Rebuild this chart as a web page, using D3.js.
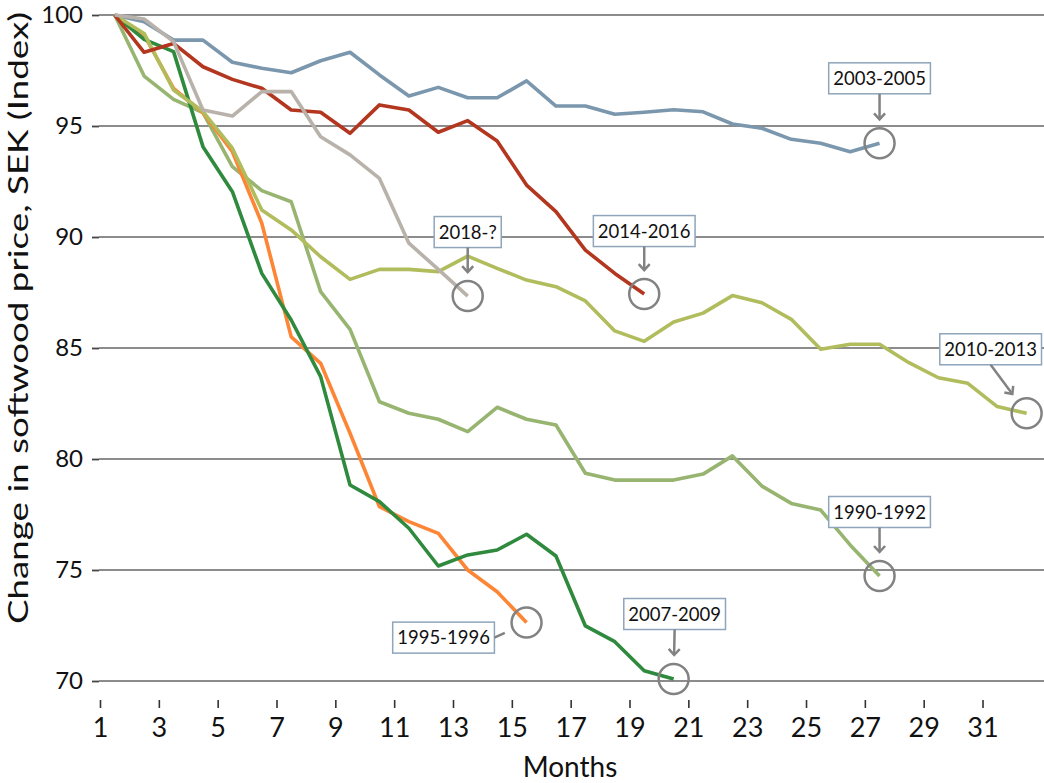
<!DOCTYPE html>
<html>
<head>
<meta charset="utf-8">
<script src="https://cdn.jsdelivr.net/npm/d3@7"></script>
<style>
    html, body { margin: 0; padding: 0; background: #fff; }
    svg { display: block; font-family: Lato, 'Open Sans', sans-serif; }
</style>
</head>
<body>
<div id="chart-container"></div>
<script>
// Index values (start = 100), one value per month of each downturn
const s1990 = [100, 97.25, 96.2, 95.6, 93.17, 92.09, 91.59, 87.54, 85.84, 82.58, 82.06, 81.79, 81.23, 82.33, 81.79,
    81.53, 79.36, 79.05, 79.05, 79.05, 79.32, 80.14, 78.78, 78.0, 77.7, 76.13, 74.73];
const s1995 = [100, 99.1, 96.7, 95.6, 93.84, 90.62, 85.5, 84.31, 81.16, 77.85, 77.18, 76.65, 75.0, 74.02, 72.63];
const s2003 = [100, 99.7, 98.87, 98.87, 97.87, 97.6, 97.4, 97.94, 98.32, 97.3, 96.35, 96.74, 96.27, 96.27, 97.03,
    95.9, 95.9, 95.53, 95.62, 95.73, 95.64, 95.09, 94.9, 94.4, 94.22, 93.84, 94.22];
const s2007 = [100, 98.9, 98.35, 94.07, 92.04, 88.36, 86.26, 83.71, 78.83, 78.08, 76.88, 75.18, 75.68, 75.9, 76.61,
    75.63, 72.48, 71.77, 70.46, 70.09];
const s2010 = [100, 99.17, 96.62, 95.65, 94.0, 91.22, 90.32, 89.11, 88.09, 88.54, 88.54, 88.44, 89.14, 88.59, 88.06,
    87.76, 87.12, 85.77, 85.3, 86.17, 86.57, 87.36, 87.04, 86.29, 84.94, 85.17, 85.17, 84.34, 83.66, 83.41, 82.36, 82.06];
const s2014 = [100, 98.32, 98.72, 97.67, 97.1, 96.7, 95.72, 95.62, 94.67, 95.95, 95.72, 94.72, 95.24, 94.32, 92.34,
    91.14, 89.41, 88.36, 87.43];
const s2018 = [100, 99.82, 98.8, 95.72, 95.45, 96.55, 96.55, 94.52, 93.7, 92.64, 89.72, 88.54, 87.34];

const periods = ['1990-1992', '1995-1996', '2003-2005', '2007-2009', '2010-2013', '2014-2016', '2018-?'];
const seriesValues = [s1990, s1995, s2003, s2007, s2010, s2014, s2018];
const monthTicks = d3.range(1, 32, 2);
const indexTicks = [70, 75, 80, 85, 90, 95, 100];

const COLORS = ['#97b571', '#fd8636', '#7b97ad', '#2f8a3e', '#b1bc5d', '#b3361f', '#b8b2aa'];
// where each callout box sits relative to the end of its line
const CALLOUTS = {
    '1990-1992': { dx: 0, dy: -64, from: 'bottom', head: true },
    '1995-1996': { dx: -83, dy: 15, from: 'right', head: false },
    '2003-2005': { dx: 0, dy: -65, from: 'bottom', head: true },
    '2007-2009': { dx: 1, dy: -65, from: 'bottom', head: true },
    '2010-2013': { dx: -36, dy: -64, from: 'bottom', head: true },
    '2014-2016': { dx: 0, dy: -63, from: 'bottom', head: true },
    '2018-?': { dx: 0, dy: -64, from: 'bottom', head: true },
};

const width = 1044;
const height = 783;
const margin = { top: 15, right: 0, bottom: 102, left: 99 };
const RING_RADIUS = 15;
const ARROW_GAP = 24;

const svg = d3
    .select('#chart-container')
    .append('svg')
    .attr('width', width)
    .attr('height', height)
    .attr('viewBox', [0, 0, width, height]);

const x = d3.scaleLinear().domain([1, 33.09]).range([100, width]);
const y = d3
    .scaleLinear()
    .domain([70, 100])
    .range([height - margin.bottom, margin.top]);

// points sit mid-month, half a step right of the tick labels (as in the source chart)
const px = (i) => x(i + 1.5);

svg.append('defs')
    .append('marker')
    .attr('id', 'head')
    .attr('markerWidth', 14)
    .attr('markerHeight', 14)
    .attr('refX', 7)
    .attr('refY', 7)
    .attr('orient', 'auto')
    .attr('markerUnits', 'userSpaceOnUse')
    .append('path')
    .attr('d', 'M1,1.5L7,7L1,12.5')
    .attr('fill', 'none')
    .attr('stroke', '#828282')
    .attr('stroke-width', 2.5);

// gridlines
svg.append('g')
    .selectAll('line')
    .data(indexTicks)
    .join('line')
    .attr('x1', margin.left)
    .attr('x2', width)
    .attr('y1', (d) => y(d))
    .attr('y2', (d) => y(d))
    .attr('stroke', '#8c8c8c')
    .attr('stroke-width', 2.2);

const yAxis = svg
    .append('g')
    .attr('transform', `translate(${margin.left},0)`)
    .call(d3.axisLeft(y).tickValues(indexTicks).tickSize(7).tickPadding(9));
yAxis.select('.domain').remove();
yAxis.selectAll('line').attr('stroke', '#444').attr('stroke-width', 1.8);
yAxis.selectAll('text').attr('font-size', 24).attr('fill', '#111').attr('font-family', 'Lato');

const xAxis = svg
    .append('g')
    .attr('transform', 'translate(0,700)')
    .call(d3.axisBottom(x).tickValues(monthTicks).tickSize(8).tickPadding(10));
xAxis.select('.domain').remove();
xAxis.selectAll('line').attr('stroke', '#333').attr('stroke-width', 1.6);
xAxis.selectAll('text').attr('font-size', 27).attr('fill', '#111').attr('font-family', 'Lato');

svg.append('text')
    .attr('transform', 'translate(28,318) rotate(-90)')
    .attr('text-anchor', 'middle')
    .attr('font-size', 27)
    .attr('textLength', 612)
    .attr('lengthAdjust', 'spacingAndGlyphs')
    .attr('fill', '#111')
    .text('Change in softwood price, SEK (Index)');

svg.append('text')
    .attr('x', 570)
    .attr('y', 777)
    .attr('text-anchor', 'middle')
    .attr('font-size', 28)
    .attr('fill', '#111')
    .text('Months');

const line = d3
    .line()
    .x((d, i) => px(i))
    .y((d) => y(d));

svg.append('g')
    .selectAll('path')
    .data(seriesValues)
    .join('path')
    .attr('d', line)
    .attr('fill', 'none')
    .attr('stroke', (d, i) => COLORS[i])
    .attr('stroke-width', 3.6)
    .attr('stroke-linejoin', 'round');

// callouts: ring at last point, arrow and labelled box
const callouts = periods.map((p, k) => {
    const vals = seriesValues[k];
    const cx = px(vals.length - 1);
    const cy = y(vals[vals.length - 1]);
    return { label: p, cx, cy, ...CALLOUTS[p] };
});

const calloutGroup = svg.append('g');
calloutGroup
    .selectAll('circle')
    .data(callouts)
    .join('circle')
    .attr('cx', (d) => d.cx)
    .attr('cy', (d) => d.cy)
    .attr('r', RING_RADIUS)
    .attr('fill', 'none')
    .attr('stroke', '#828282')
    .attr('stroke-width', 2.5);

const box = calloutGroup
    .selectAll('g.box')
    .data(callouts)
    .join('g')
    .attr('class', 'box')
    .attr('transform', (d) => `translate(${d.cx + d.dx},${d.cy + d.dy})`);
const rect = box.append('rect').attr('fill', '#fff').attr('stroke', '#8ea5bb').attr('stroke-width', 1.5);
const label = box
    .append('text')
    .attr('text-anchor', 'middle')
    .attr('dy', '0.36em')
    .attr('font-size', 18.5)
    .attr('fill', '#111')
    .text((d) => d.label);

label.each(function (d) {
    const w = this.getComputedTextLength();
    d.w = w + 9;
    d.h = 31;
});
rect.attr('x', (d) => -d.w / 2)
    .attr('y', (d) => -d.h / 2)
    .attr('width', (d) => d.w)
    .attr('height', (d) => d.h);

calloutGroup
    .selectAll('line')
    .data(callouts)
    .join('line')
    .each(function (d) {
        const bx = d.cx + d.dx;
        const by = d.cy + d.dy;
        const sx = d.from === 'right' ? bx + d.w / 2 : bx;
        const sy = d.from === 'right' ? by : by + d.h / 2;
        const len = Math.hypot(d.cx - sx, d.cy - sy);
        const t = (len - ARROW_GAP) / len;
        d3.select(this)
            .attr('x1', sx)
            .attr('y1', sy)
            .attr('x2', sx + (d.cx - sx) * t)
            .attr('y2', sy + (d.cy - sy) * t);
    })
    .attr('stroke', '#828282')
    .attr('stroke-width', 2.5)
    .attr('marker-end', (d) => (d.head ? 'url(#head)' : null));
</script>
</body>
</html>
